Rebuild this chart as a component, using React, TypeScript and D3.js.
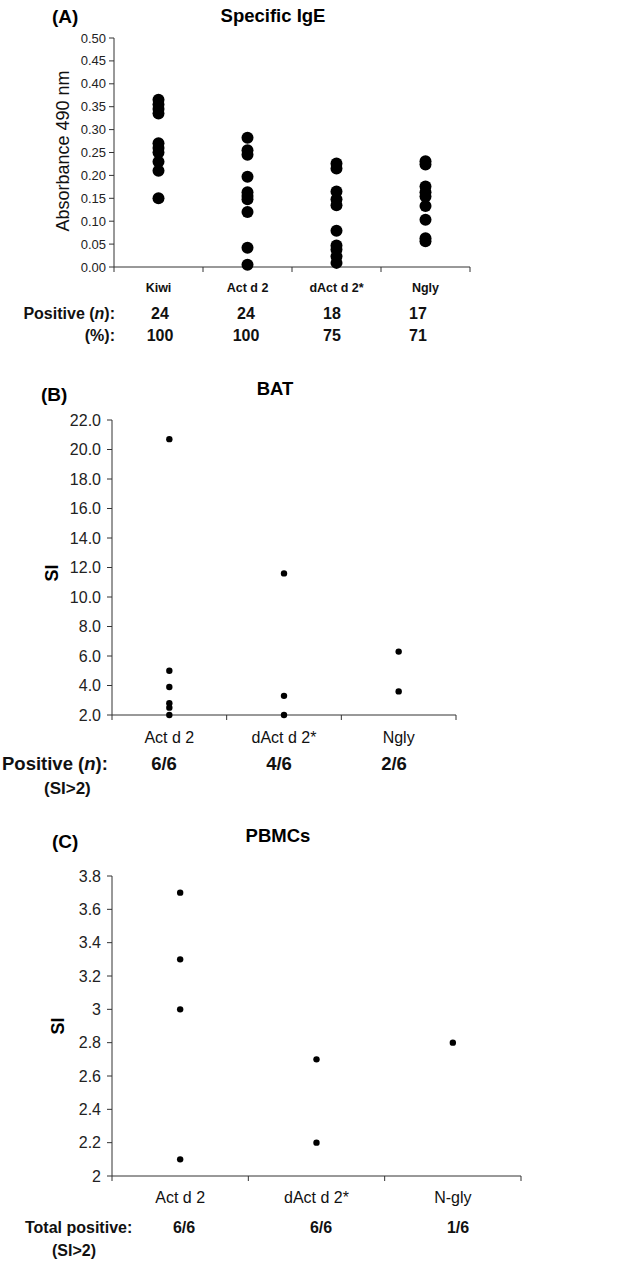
import React from "react";
import * as d3 from "d3";

// (A) specific IgE, absorbance at 490 nm
const igeCategories = ["Kiwi", "Act d 2", "dAct d 2*", "Ngly"];
const igeKiwi = [0.365, 0.355, 0.345, 0.335, 0.27, 0.26, 0.25, 0.23, 0.21, 0.15];
const igeActd2 = [0.282, 0.255, 0.245, 0.197, 0.163, 0.155, 0.148, 0.12, 0.042, 0.005];
const igeDActd2 = [0.226, 0.215, 0.165, 0.148, 0.135, 0.079, 0.047, 0.038, 0.023, 0.009];
const igeNgly = [0.231, 0.224, 0.176, 0.163, 0.154, 0.133, 0.103, 0.063, 0.056];
const igePositiveN = ["24", "24", "18", "17"];
const igePercent = ["100", "100", "75", "71"];

// (B) BAT, stimulation index
const batCategories = ["Act d 2", "dAct d 2*", "Ngly"];
const batActd2 = [20.7, 5.0, 3.9, 2.8, 2.5, 2.0];
const batDActd2 = [11.6, 3.3, 2.0];
const batNgly = [6.3, 3.6];
const batPositive = ["6/6", "4/6", "2/6"];

// (C) PBMCs, stimulation index
const pbmcCategories = ["Act d 2", "dAct d 2*", "N-gly"];
const pbmcActd2 = [3.7, 3.3, 3.0, 2.1];
const pbmcDActd2 = [2.7, 2.2];
const pbmcNgly = [2.8];
const pbmcPositive = ["6/6", "6/6", "1/6"];

const FONT = "Liberation Sans, Arial, Helvetica, sans-serif";
const AXIS = "#333";

type PanelProps = {
  cats: string[];
  groups: number[][];
  xRange: [number, number];
  yDomain: [number, number];
  yRange: [number, number];
  step: number;
  fmt: (v: number) => string;
  r: number;
  tickFont: number;
  tickGap: number;
  catFont: number;
  catBold: boolean;
  catY: number;
};

function Panel(p: PanelProps) {
  const x = d3.scaleBand<string>().domain(p.cats).range(p.xRange);
  const y = d3.scaleLinear().domain(p.yDomain).range(p.yRange);
  const n = Math.round((p.yDomain[1] - p.yDomain[0]) / p.step);
  const ticks = d3.range(n + 1).map((i) => p.yDomain[0] + i * p.step);
  const bounds = p.cats.map((c) => x(c) as number).concat([p.xRange[1]]);
  const x0 = p.xRange[0];
  const yb = p.yRange[0];

  return (
    <g>
      <line x1={x0} x2={x0} y1={y(p.yDomain[1])} y2={yb} stroke={AXIS} strokeWidth={1} />
      <line x1={x0} x2={p.xRange[1]} y1={yb} y2={yb} stroke={AXIS} strokeWidth={1} />
      {ticks.map((t, i) => (
        <g key={i}>
          <line x1={x0 - 5} x2={x0} y1={y(t)} y2={y(t)} stroke={AXIS} />
          <text
            x={x0 - p.tickGap}
            y={y(t)}
            dy="0.35em"
            textAnchor="end"
            fontSize={p.tickFont}
            fill="#222"
          >
            {p.fmt(t)}
          </text>
        </g>
      ))}
      {bounds.map((b, i) => (
        <line key={i} x1={b} x2={b} y1={yb} y2={yb + 5} stroke={AXIS} />
      ))}
      {p.cats.map((c) => (
        <text
          key={c}
          x={(x(c) as number) + x.bandwidth() / 2}
          y={p.catY}
          textAnchor="middle"
          fontSize={p.catFont}
          fontWeight={p.catBold ? "bold" : "normal"}
          fill="#111"
        >
          {c}
        </text>
      ))}
      {p.groups.map((vals, gi) =>
        vals.map((v, j) => (
          <circle
            key={gi + "-" + j}
            cx={(x(p.cats[gi]) as number) + x.bandwidth() / 2}
            cy={y(v)}
            r={p.r}
            fill="#000"
          />
        ))
      )}
    </g>
  );
}

export default function App() {
  const igeRow = d3.scalePoint<string>().domain(igeCategories).range([160, 418]);
  const batRow = d3.scalePoint<string>().domain(batCategories).range([164, 394]);
  const pbmcRow = d3.scalePoint<string>().domain(pbmcCategories).range([184, 458]);

  return (
    <div style={{ position: "absolute", left: 0, top: 0 }}>
      <svg width={617} height={1264} fontFamily={FONT} style={{ display: "block", background: "#fff" }}>
        {/* (A) */}
        <text x={52} y={23} fontSize={19} fontWeight="bold">(A)</text>
        <text x={273} y={22} fontSize={18.5} fontWeight="bold" textAnchor="middle">Specific IgE</text>
        <text
          transform="translate(69,151) rotate(-90)"
          textAnchor="middle"
          fontSize={18}
          fill="#111"
        >
          Absorbance 490 nm
        </text>
        <Panel
          cats={igeCategories}
          groups={[igeKiwi, igeActd2, igeDActd2, igeNgly]}
          xRange={[114, 470]}
          yDomain={[0, 0.5]}
          yRange={[267, 38]}
          step={0.05}
          fmt={d3.format(".2f")}
          r={6}
          tickFont={13}
          tickGap={8}
          catFont={12.5}
          catBold={true}
          catY={292}
        />
        <g fontWeight="bold" fontSize={16} fill="#111">
          <text x={115} y={319} textAnchor="end">
            Positive (<tspan fontStyle="italic">n</tspan>):
          </text>
          <text x={115} y={341} textAnchor="end">(%):</text>
          {igeCategories.map((c, i) => (
            <g key={c}>
              <text x={igeRow(c)} y={319} textAnchor="middle">{igePositiveN[i]}</text>
              <text x={igeRow(c)} y={341} textAnchor="middle">{igePercent[i]}</text>
            </g>
          ))}
        </g>

        {/* (B) */}
        <text x={41} y={401} fontSize={19} fontWeight="bold">(B)</text>
        <text x={275} y={395} fontSize={18.5} fontWeight="bold" textAnchor="middle">BAT</text>
        <text
          transform="translate(58,573) rotate(-90)"
          textAnchor="middle"
          fontSize={18}
          fontWeight="bold"
        >
          SI
        </text>
        <Panel
          cats={batCategories}
          groups={[batActd2, batDActd2, batNgly]}
          xRange={[112, 456]}
          yDomain={[2, 22]}
          yRange={[715, 420]}
          step={2}
          fmt={d3.format(".1f")}
          r={3.2}
          tickFont={16}
          tickGap={11}
          catFont={16}
          catBold={false}
          catY={743}
        />
        <g fontWeight="bold" fontSize={18.5} fill="#111">
          <text x={2} y={770}>
            Positive (<tspan fontStyle="italic">n</tspan>):
          </text>
          <text x={44} y={794} fontSize={17}>(SI&gt;2)</text>
          {batCategories.map((c, i) => (
            <text key={c} x={batRow(c)} y={770} textAnchor="middle">{batPositive[i]}</text>
          ))}
        </g>

        {/* (C) */}
        <text x={52} y={848} fontSize={19} fontWeight="bold">(C)</text>
        <text x={278} y={842} fontSize={18.5} fontWeight="bold" textAnchor="middle">PBMCs</text>
        <text
          transform="translate(64,1026) rotate(-90)"
          textAnchor="middle"
          fontSize={18}
          fontWeight="bold"
        >
          SI
        </text>
        <Panel
          cats={pbmcCategories}
          groups={[pbmcActd2, pbmcDActd2, pbmcNgly]}
          xRange={[112, 521]}
          yDomain={[2, 3.8]}
          yRange={[1176, 876]}
          step={0.2}
          fmt={(v) => String(+v.toFixed(1))}
          r={3.2}
          tickFont={16}
          tickGap={11}
          catFont={16}
          catBold={false}
          catY={1203}
        />
        <g fontWeight="bold" fontSize={16} fill="#111">
          <text x={25} y={1233}>Total positive:</text>
          <text x={52} y={1256}>(SI&gt;2)</text>
          {pbmcCategories.map((c, i) => (
            <text key={c} x={pbmcRow(c)} y={1233} textAnchor="middle">{pbmcPositive[i]}</text>
          ))}
        </g>
      </svg>
    </div>
  );
}
